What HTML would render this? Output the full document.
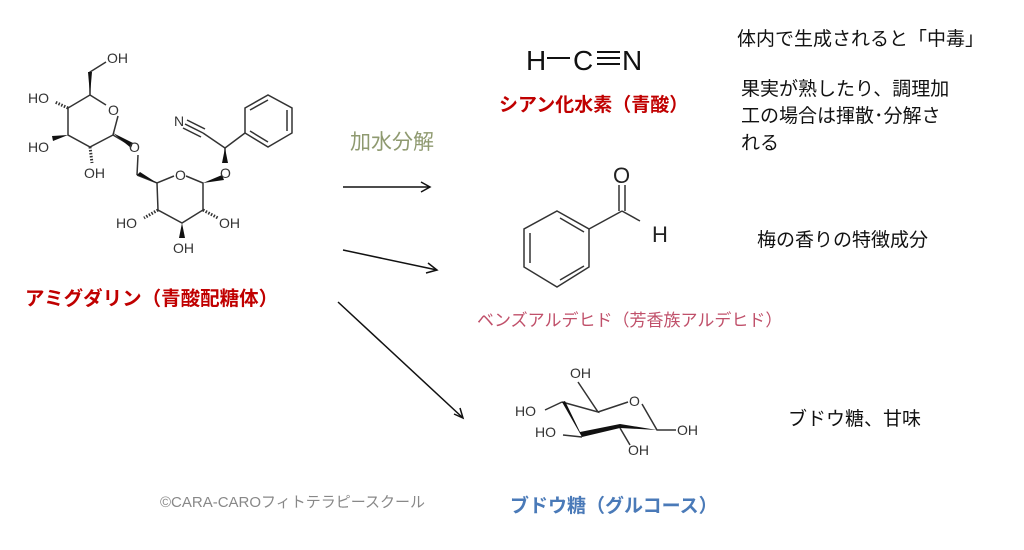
<!DOCTYPE html>
<html><head><meta charset="utf-8"><style>
html,body{margin:0;padding:0;background:#fff;}
body{width:1024px;height:550px;overflow:hidden;position:relative;font-family:"Liberation Sans","Noto Sans CJK JP",sans-serif;}
.t{position:absolute;white-space:nowrap;line-height:1;}
</style></head><body>
<svg width="1024" height="550" style="position:absolute;left:0;top:0" font-family="Liberation Sans, sans-serif">
<g stroke="#333" stroke-width="1.5" fill="none">
<polyline points="90,95 106,105"/><polyline points="118,116 113,135"/>
<polyline points="113,135 90,147 68,135 68,108 90,95 90,72 106,62"/>
<line x1="113" y1="135" x2="130" y2="145"/>
<line x1="68" y1="108" x2="55" y2="102" stroke-dasharray="1.5,1.5" stroke-width="3"/>
<line x1="90" y1="147" x2="92" y2="163" stroke-dasharray="1.5,1.5" stroke-width="3"/>
<line x1="138" y1="155" x2="137" y2="175"/>
<polyline points="137,175 157,183 174,176"/>
<polyline points="186,176 203,183 203,210 182,223 158,210 157,183"/>
<line x1="158" y1="210" x2="144" y2="218" stroke-dasharray="1.5,1.5" stroke-width="3"/>
<line x1="203" y1="210" x2="218" y2="218" stroke-dasharray="1.5,1.5" stroke-width="3"/>
<line x1="225" y1="163" x2="225" y2="148"/>
<line x1="225" y1="148" x2="245" y2="133"/>
<line x1="203" y1="133" x2="225" y2="148" />
<line x1="185" y1="124" x2="203" y2="133"/><line x1="187" y1="120" x2="205" y2="129"/><line x1="183" y1="128" x2="201" y2="137"/>
<polygon points="245,108 268,95 292,108 292,133 268,147 245,133"/>
<line x1="250" y1="110" x2="268" y2="100"/><line x1="287" y1="110" x2="287" y2="131"/><line x1="250" y1="131" x2="268" y2="142"/>
<polygon points="557,211 589,229 589,267 557,287 524,267 524,229"/>
<line x1="530" y1="233" x2="530" y2="263"/><line x1="560" y1="218" x2="584" y2="232"/><line x1="560" y1="280" x2="584" y2="266"/>
<line x1="589" y1="229" x2="622" y2="211"/><line x1="622" y1="211" x2="640" y2="221"/>
<line x1="619" y1="211" x2="619" y2="185"/><line x1="625" y1="211" x2="625" y2="185"/>
<polyline points="578,382 598,412 562,402"/>
<line x1="598" y1="412" x2="628" y2="402"/>
<polyline points="642,404 657,430 676,430"/>
<line x1="562" y1="402" x2="545" y2="410"/>
<line x1="582" y1="437" x2="563" y2="435"/>
<line x1="620" y1="428" x2="630" y2="445"/>
</g>
<g fill="#111">
<polygon points="113,133 133,143 131,148"/><polygon points="90,95 88,72 92,72"/>
<polygon points="68,135 53,141 52,136"/>
<polygon points="157,183 137,175 140,172"/>
<polygon points="182,223 179,238 185,238"/>
<polygon points="203,183 222,175 224,180"/>
<polygon points="225,148 222,163 228,163"/>
<polygon points="562,402 582,437 620,428 657,430 620,424 580,432 565,401"/>
</g>
<g font-size="14" fill="#333">
<text x="107" y="63">OH</text><text x="28" y="103">HO</text><text x="28" y="152">HO</text><text x="84" y="178">OH</text>
<text x="108" y="115">O</text><text x="129" y="152">O</text><text x="175" y="180">O</text><text x="220" y="178">O</text>
<text x="174" y="126">N</text>
<text x="116" y="228">HO</text><text x="219" y="228">OH</text><text x="173" y="253">OH</text>
<text x="570" y="378">OH</text><text x="515" y="416">HO</text><text x="535" y="437">HO</text><text x="628" y="455">OH</text><text x="677" y="435">OH</text><text x="629" y="406">O</text>
</g>
<text x="613" y="183" font-size="22" fill="#222">O</text>
<text x="652" y="242" font-size="22" fill="#222">H</text>
<text x="526" y="70" font-size="28" fill="#111">H</text>
<line x1="547" y1="58" x2="570" y2="58" stroke="#111" stroke-width="2"/>
<text x="573" y="70" font-size="28" fill="#111">C</text>
<g stroke="#111" stroke-width="2"><line x1="597" y1="52" x2="620" y2="52"/><line x1="597" y1="58" x2="620" y2="58"/><line x1="597" y1="64" x2="620" y2="64"/></g>
<text x="622" y="70" font-size="28" fill="#111">N</text>
<g stroke="#111" stroke-width="1.5" fill="none">
<line x1="343" y1="187" x2="430" y2="187"/><polyline points="421,182 430,187 421,192"/>
<line x1="343" y1="250" x2="437" y2="270"/><polyline points="428,263 437,270 426,273"/>
<line x1="338" y1="302" x2="463" y2="418"/><polyline points="454,414 463,418 460,408"/>
</g>
</svg>
<div class="t" style="left:350px;top:132px;font-size:21px;color:#8f9a70">加水分解</div>
<div class="t" style="left:25px;top:290px;font-size:19.5px;color:#c00000;font-weight:bold">アミグダリン（青酸配糖体）</div>
<div class="t" style="left:499px;top:96px;font-size:19px;color:#c00000;font-weight:bold">シアン化水素（青酸）</div>
<div class="t" style="left:477px;top:312px;font-size:17px;color:#c0506a">ベンズアルデヒド（芳香族アルデヒド）</div>
<div class="t" style="left:510px;top:497px;font-size:19px;color:#4a7ab8;font-weight:bold">ブドウ糖（グルコース）</div>
<div class="t" style="left:160px;top:495px;font-size:15px;color:#888">©CARA-CAROフィトテラピースクール</div>
<div class="t" style="left:737px;top:30px;font-size:19px;color:#111">体内で生成されると「中毒」</div>
<div class="t" style="left:741px;top:76px;font-size:19px;color:#111;line-height:27px">果実が熟したり、調理加<br>工の場合は揮散･分解さ<br>れる</div>
<div class="t" style="left:757px;top:231px;font-size:19px;color:#111">梅の香りの特徴成分</div>
<div class="t" style="left:788px;top:410px;font-size:19px;color:#111">ブドウ糖、甘味</div>
</body></html>
